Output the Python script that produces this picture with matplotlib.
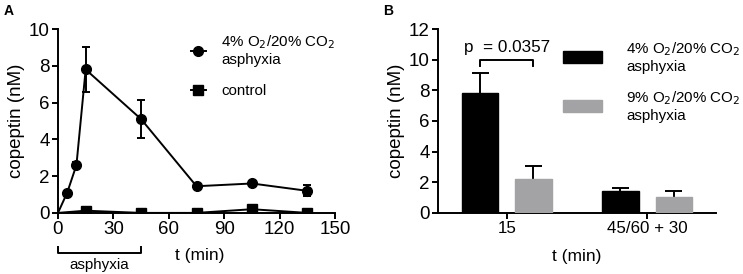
import matplotlib.pyplot as plt
import numpy as np

plt.rcParams['font.family'] = ['Liberation Sans', 'DejaVu Sans']

# panel A data
t_asph = [0, 5, 10, 15, 45, 75, 105, 135]
cop_asph = [0, 1.1, 2.6, 7.8, 5.1, 1.45, 1.6, 1.2]
err_asph = [0, 0.1, 0.15, 1.25, 1.05, 0.1, 0.1, 0.3]
t_ctrl = [0, 15, 45, 75, 105, 135]
cop_ctrl = [0, 0.12, 0.0, 0.0, 0.2, 0.0]

# panel B data
groups = ['15', '45/60 + 30']
bar_4pct = [7.8, 1.45]
err_4pct = [1.3, 0.2]
bar_9pct = [2.2, 1.05]
err_9pct = [0.85, 0.4]
p_text = 'p  = 0.0357'

lab_4 = '4% O$_2$/20% CO$_2$\nasphyxia'
lab_9 = '9% O$_2$/20% CO$_2$\nasphyxia'
gray = '#a3a3a6'
LW = 1.4

fig = plt.figure(figsize=(7.43, 2.74), dpi=100)
axA = fig.add_axes([0.078, 0.223, 0.373, 0.671])
axB = fig.add_axes([0.5895, 0.223, 0.374, 0.671])

for ax in (axA, axB):
    for s in ('top', 'right'):
        ax.spines[s].set_visible(False)
    for s in ('left', 'bottom'):
        ax.spines[s].set_linewidth(LW)
    ax.tick_params(direction='out', length=4, width=LW, labelsize=13.5, pad=2)

# ---- panel A
axA.errorbar(t_asph[1:], cop_asph[1:], yerr=err_asph[1:], fmt='none', ecolor='black',
             elinewidth=LW, capsize=3, capthick=LW, zorder=2)
axA.plot(t_asph, cop_asph, color='black', lw=LW, zorder=3)
axA.plot(t_asph[1:], cop_asph[1:], 'o', color='black', ms=7, zorder=4)
axA.plot(t_ctrl, cop_ctrl, color='black', lw=LW, zorder=3)
axA.plot(t_ctrl[1:], cop_ctrl[1:], 's', color='black', ms=7, zorder=4)
axA.plot([], [], '-o', color='black', lw=LW, ms=7, label=lab_4)
axA.plot([], [], '-s', color='black', lw=LW, ms=7, label='control')
axA.set_xlim(0, 150)
axA.set_ylim(0, 10)
axA.set_xticks([0, 30, 60, 90, 120, 150])
axA.set_yticks([0, 2, 4, 6, 8, 10])
axA.set_ylabel('copeptin (nM)', fontsize=13.5, labelpad=3)
axA.set_xlabel('t (min)', fontsize=12.5, labelpad=7, x=0.51)
handles, labels = axA.get_legend_handles_labels()
axA.legend(handles[-2:], labels[-2:], loc='upper left', bbox_to_anchor=(0.43, 1.05),
           frameon=False, fontsize=10.9, handlelength=1.0, labelspacing=1.1, handletextpad=1.0)

# asphyxia bracket below axis, spanning 0-45 min
trans = axA.get_xaxis_transform()
axA.plot([0, 0, 45, 45], [-0.185, -0.22, -0.22, -0.185], color='black', lw=LW,
         transform=trans, clip_on=False)
axA.text(22.5, -0.245, 'asphyxia', transform=trans, ha='center', va='top', fontsize=10.9)

fig.text(0.005, 0.96, 'A', fontsize=10, fontweight='bold', va='center')
fig.text(0.515, 0.96, 'B', fontsize=10, fontweight='bold', va='center')

# ---- panel B
x = np.arange(len(groups)) * 1.0
w = 0.26
off = 0.19
axB.bar(x - off, bar_4pct, width=w, color='black', edgecolor='black', label=lab_4, zorder=3)
axB.bar(x + off, bar_9pct, width=w, color=gray, edgecolor=gray, label=lab_9, zorder=3)
cap = 0.06
for xs, ys, es in ((x - off, bar_4pct, err_4pct), (x + off, bar_9pct, err_9pct)):
    ys = np.array(ys)
    es = np.array(es)
    axB.vlines(xs, ys, ys + es, color='black', lw=LW, zorder=2)
    axB.hlines(ys + es, xs - cap, xs + cap, color='black', lw=LW, zorder=2)
axB.set_xlim(-0.49, 1.49)
axB.set_ylim(0, 12)
axB.set_yticks([0, 2, 4, 6, 8, 10, 12])
axB.set_xticks(x)
axB.set_xticklabels(groups)
axB.tick_params(axis='x', labelsize=12.2)
axB.set_ylabel('copeptin (nM)', fontsize=13.5, labelpad=3)
axB.set_xlabel('t (min)', fontsize=12.5, labelpad=9)
axB.legend(loc='upper left', bbox_to_anchor=(0.40, 1.015), frameon=False, fontsize=10.9,
           handlelength=2.6, handleheight=0.9, labelspacing=1.0, handletextpad=1.6)

# significance bracket
y_br = 10.0
axB.plot([x[0] - off, x[0] - off, x[0] + off, x[0] + off], [y_br - 0.4, y_br, y_br, y_br - 0.4],
         color='black', lw=LW)
axB.text(x[0], y_br + 0.3, p_text, ha='center', va='bottom', fontsize=12.3)

fig.savefig('out.png', dpi=100)
